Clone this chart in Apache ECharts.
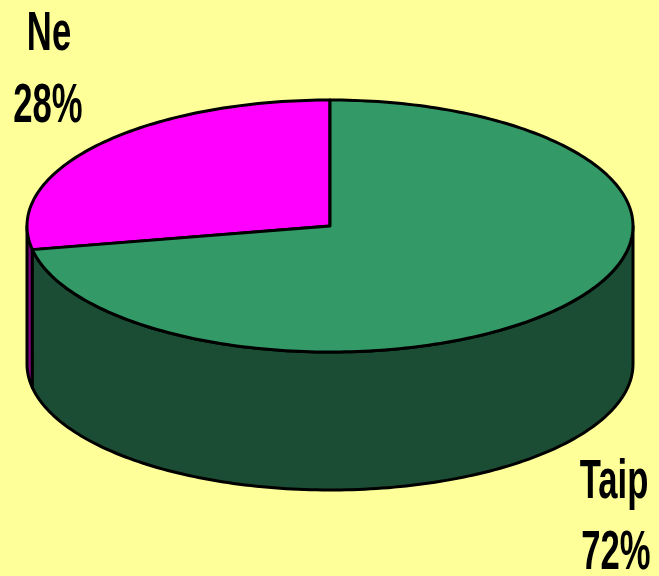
<!DOCTYPE html>
<html>
<head>
<meta charset="utf-8">
<script src="https://cdn.jsdelivr.net/npm/echarts@6/dist/echarts.min.js"></script>
<style>
  html, body { margin: 0; padding: 0; background: #ffff99; }
  #chart { width: 659px; height: 576px; }
</style>
</head>
<body>
<div id="chart"></div>
<script>
  // slices, counter-clockwise from 12 o'clock
  var categories = ['Ne', 'Taip'];
  var values = [28, 72];

  var topColors = ['#ff00ff', '#339966'];
  var sideColors = ['#800080', '#1a4d33'];
  var depth = 1.095; // thickness of the disc, in units of the vertical radius

  var total = values.reduce(function (a, b) { return a + b; }, 0);

  function sliceAngles(i) {
    var before = 0;
    for (var k = 0; k < i; k++) before += values[k];
    var a0 = Math.PI / 2 + before / total * Math.PI * 2;
    var a1 = a0 + values[i] / total * Math.PI * 2;
    return [a0, a1];
  }

  function arc(api, a0, a1, dy) {
    var pts = [];
    var n = Math.max(2, Math.ceil(Math.abs(a1 - a0) / 0.02));
    for (var j = 0; j <= n; j++) {
      var t = a0 + (a1 - a0) * j / n;
      pts.push(api.coord([Math.cos(t), Math.sin(t) + dy]));
    }
    return pts;
  }

  var lineStyle = { stroke: '#000', lineWidth: 3, lineJoin: 'round' };

  function renderSide(params, api) {
    var a = sliceAngles(params.dataIndex);
    // only the front half of the rim is visible
    var pieces = [];
    [[Math.PI, 2 * Math.PI], [3 * Math.PI, 4 * Math.PI]].forEach(function (r) {
      var s0 = Math.max(a[0], r[0]), s1 = Math.min(a[1], r[1]);
      if (s1 > s0) {
        var pts = arc(api, s0, s1, 0).concat(arc(api, s1, s0, -depth));
        pieces.push({
          type: 'polygon',
          shape: { points: pts },
          style: Object.assign({ fill: sideColors[params.dataIndex] }, lineStyle)
        });
      }
    });
    return { type: 'group', children: pieces };
  }

  function renderTop(params, api) {
    var a = sliceAngles(params.dataIndex);
    var pts = [api.coord([0, 0])].concat(arc(api, a[0], a[1], 0));
    return {
      type: 'polygon',
      shape: { points: pts },
      style: Object.assign({ fill: topColors[params.dataIndex] }, lineStyle)
    };
  }

  function label(text, x, y) {
    return {
      type: 'text', x: x, y: y, scaleX: 0.63,
      style: {
        text: text, fill: '#000',
        font: 'bold 55px "Liberation Sans", Arial, sans-serif',
        align: 'center', verticalAlign: 'middle'
      }
    };
  }

  var chart = echarts.init(document.getElementById('chart'));
  chart.setOption({
    backgroundColor: '#ffff99',
    animation: false,
    grid: { left: 27, right: 26, top: 100, bottom: 86 },
    xAxis: { type: 'value', min: -1, max: 1, show: false },
    yAxis: { type: 'value', min: -1 - depth, max: 1, show: false },
    graphic: [
      label(categories[0], 49, 35),
      label(values[0] + '%', 48, 107),
      label(categories[1], 614, 483),
      label(values[1] + '%', 616, 554)
    ],
    series: [
      { type: 'custom', renderItem: renderSide, data: values, z: 1, silent: true },
      { type: 'custom', renderItem: renderTop, data: values, z: 2, silent: true }
    ]
  });
</script>
</body>
</html>
